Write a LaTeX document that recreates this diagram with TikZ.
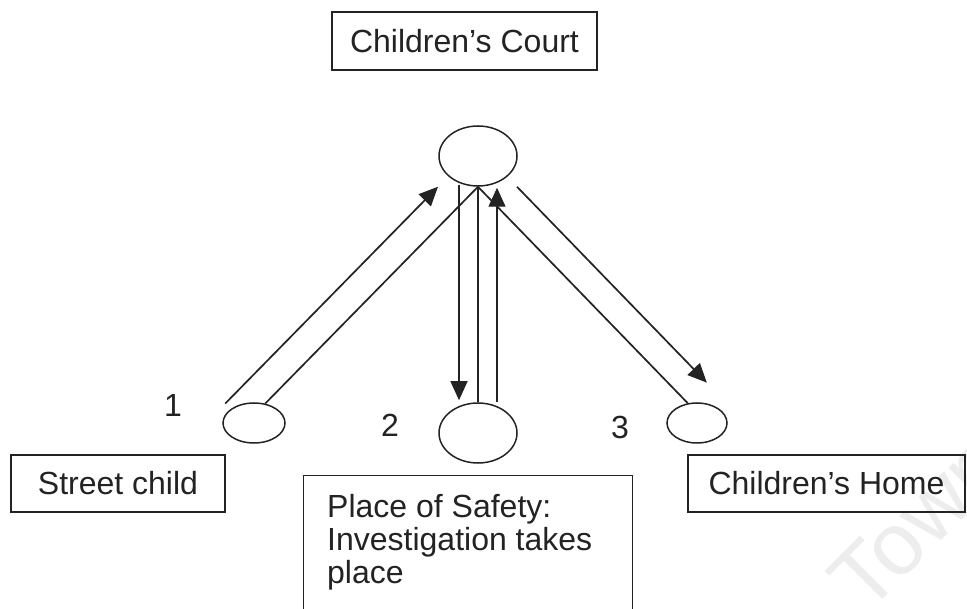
\documentclass[tikz,border=0pt]{standalone}
\usepackage{fontspec}
\setmainfont{Liberation Sans}
\usetikzlibrary{arrows.meta,calc,shapes.geometric}
\definecolor{ink}{RGB}{35,35,35}
\begin{document}
\begin{tikzpicture}[x=1pt,y=-1pt,
  font=\fontsize{32}{33}\selectfont,
  every node/.style={text=ink},
  labelbox/.style={draw=ink,line width=1.4pt,rectangle,inner sep=0pt},
  stage/.style={draw=ink,line width=1.5pt,ellipse,inner sep=0pt},
  tip/.style={-{Triangle[length=19pt,width=17pt]}},
  flow/.style={draw=ink,line width=1.7pt,tip},
  link/.style={draw=ink,line width=1.7pt},
  drop/.style={draw=ink,line width=1.2pt}]

\clip (0,0) rectangle (967,609);
\fill[white] (0,0) rectangle (967,609);

% faint background stamp
\node[text=black!7,font=\fontsize{88}{88}\selectfont,rotate=45] (stamp) at (918,522) {Town};

% stages
\node[stage,minimum width=78,minimum height=60] (court) at (478,156) {};
\node[stage,minimum width=78,minimum height=60] (safety) at (478,433) {};
\node[stage,minimum width=62,minimum height=40] (street) at (254,423) {};
\node[stage,minimum width=60,minimum height=40] (home) at (697,423) {};

% labels
\node[labelbox,minimum width=265,minimum height=58] (courtbox) at (464.5,41) {Children’s Court};
\node[labelbox,minimum width=214,minimum height=57] (streetbox) at (118,483.5) {Street child};
\node[labelbox,minimum width=277,minimum height=57] (homebox) at (826.5,483.5) {Children’s Home};
\node[labelbox,anchor=north west,minimum width=329,minimum height=160] (safetybox) at (303,475) {};
\node[anchor=north west,align=left,inner sep=0pt] (safetytext) at ($(safetybox.north west)+(24,19)$)
  {Place of Safety:\\Investigation takes\\place};

% step numbers
\node (n1) at (173,405) {1};
\node (n2) at (390,425) {2};
\node (n3) at (620,427) {3};

% street child to court
\draw[flow] ($(street.60)+(-40,0)$) -- ($(court.south)+(-40,0)$);
\draw[link] (street.60) -- (court.south);

% court to place of safety and back
\draw[drop,tip] ($(court.south)+(-19,-2)$) -- ($(safety.north)+(-19,-2)$);
\draw[drop] (court.south) -- (safety.north);
\draw[drop,tip] ($(safety.north)+(19,0)$) -- ($(court.south)+(19,1)$);

% court to children's home
\coordinate (hometip) at ($(court.south)!0.905!(home.115)$);
\draw[link] (home.115) -- (court.south);
\draw[flow] ($(court.south)+(39,0)$) -- ($(hometip)+(39,0)$);
\end{tikzpicture}
\end{document}
